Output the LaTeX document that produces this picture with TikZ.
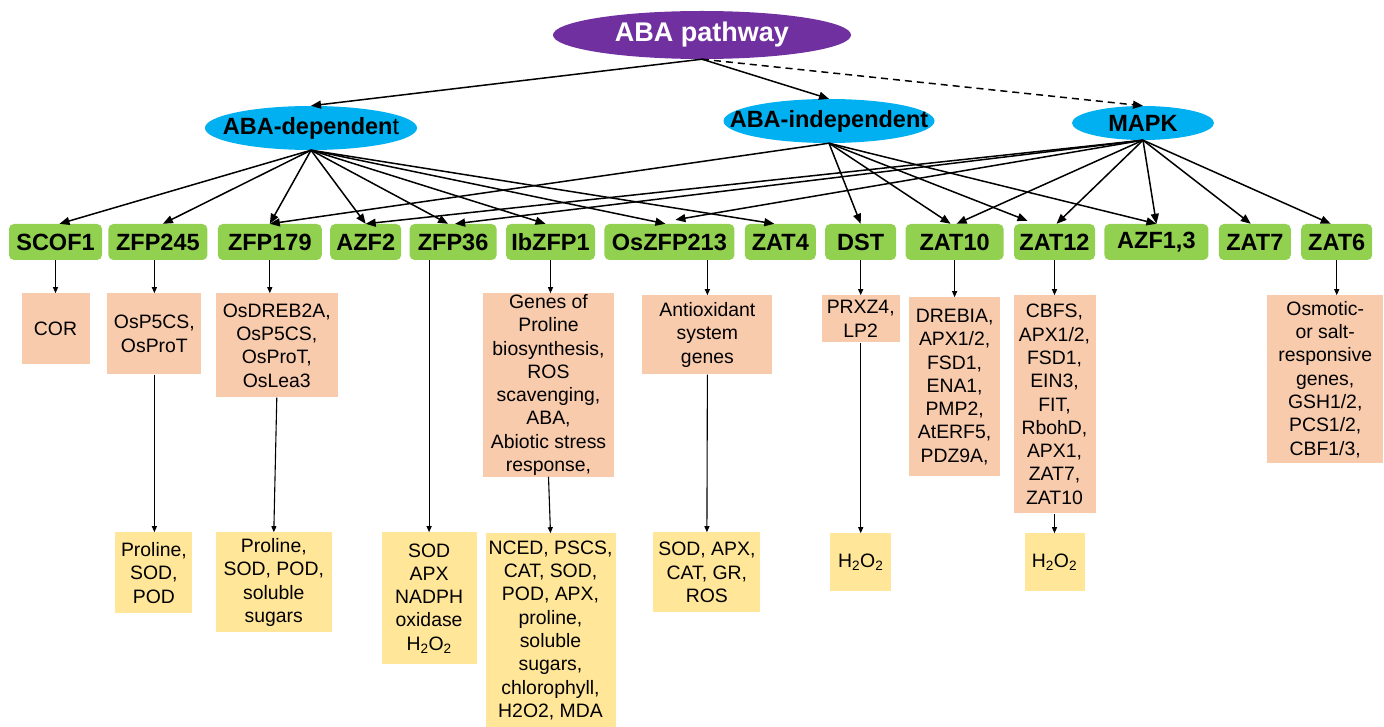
\documentclass[tikz,border=0pt]{standalone}
\usepackage{fontspec}
\setmainfont{Liberation Sans}
\usepackage{tikz}
\usetikzlibrary{shapes.geometric, arrows.meta, positioning}
\definecolor{abapurple}{HTML}{7030A0}
\definecolor{abacyan}{HTML}{00B0F0}
\definecolor{tfgreen}{HTML}{92D050}
\definecolor{geneorange}{HTML}{F8CBAD}
\definecolor{effectyellow}{HTML}{FFE699}

\begin{document}
\begin{tikzpicture}[
    x=1pt, y=-1pt,
    hub/.style={ellipse, fill=#1, inner sep=0pt, 
                font=\fontsize{23.5}{28}\selectfont\bfseries},
    tf/.style={rectangle, rounded corners=5pt, fill=tfgreen, minimum height=36pt, 
               inner sep=1pt, font=\fontsize{23.5}{28}\selectfont\bfseries},
    cell/.style={rectangle, fill=#1, inner sep=1pt, align=center, 
                 font=\fontsize{19.4}{23.3}\selectfont},
    link/.style={line width=1.5pt, -{Triangle[length=10pt,width=8pt]}},
    drop/.style={line width=1.1pt, -{Triangle[length=6pt,width=5pt]}}
]
    \useasboundingbox (0,0) rectangle (1384,727);

    \node[hub=abapurple, minimum width=298pt, minimum height=48pt, text=white, 
          font=\fontsize{27}{32}\selectfont\bfseries] (aba) at (702,35) {\makebox[0pt]{ABA pathway}};
    \node[hub=abacyan, minimum width=212pt, minimum height=44pt] (dep) at (311,128) {\makebox[0pt]{ABA-dependen\textmd{t}}};
    \node[hub=abacyan, minimum width=211pt, minimum height=44pt] (indep) at (829,121) {\makebox[0pt]{ABA-independent}};
    \node[hub=abacyan, minimum width=142pt, minimum height=34pt] (mapk) at (1143,123) {\makebox[0pt]{MAPK}};

    \node[tf, minimum width=93pt] (scof) at (55.5,242) {SCOF1};
    \node[tf, minimum width=99pt, right=6pt of scof] (zfp245) {ZFP245};
    \node[tf, minimum width=104pt, right=10pt of zfp245] (zfp179) {ZFP179};
    \node[tf, minimum width=71pt, right=8pt of zfp179] (azf2) {AZF2};
    \node[tf, minimum width=87pt, right=8pt of azf2] (zfp36) {ZFP36};
    \node[tf, minimum width=89pt, right=9pt of zfp36] (ibzfp) {IbZFP1};
    \node[tf, minimum width=130pt, right=9pt of ibzfp] (oszfp) {OsZFP213};
    \node[tf, minimum width=71pt, right=10pt of oszfp] (zat4) {ZAT4};
    \node[tf, minimum width=71pt, right=9pt of zat4] (dst) {DST};
    \node[tf, minimum width=98pt, right=9pt of dst] (zat10) {ZAT10};
    \node[tf, minimum width=81pt, right=10pt of zat10] (zat12) {ZAT12};
    \node[tf, minimum width=104pt, right=9pt of zat12] (azf13) {AZF1,3};
    \node[tf, minimum width=72pt, right=10pt of azf13] (zat7) {ZAT7};
    \node[tf, minimum width=71pt, right=10pt of zat7] (zat6) {ZAT6};

    \node[cell=geneorange, minimum width=68pt, minimum height=71pt, below=33pt of scof] (cor) {COR};
    \node[cell=geneorange, minimum width=94pt, minimum height=81pt, below=33pt of zfp245, xshift=-3.5pt] (osp) {OsP5CS,\\OsProT};
    \node[cell=geneorange, minimum width=122pt, minimum height=104pt, below=33pt of zfp179, xshift=7pt] (osdreb) {OsDREB2A,\\OsP5CS,\\OsProT,\\OsLea3};
    \node[cell=geneorange, minimum width=131pt, minimum height=179pt, below=33pt of ibzfp, xshift=-2pt] (genes) {Genes of\\Proline\\biosynthesis,\\ROS\\scavenging,\\ABA,\\Abiotic stress\\response,};
    \node[cell=geneorange, minimum width=130pt, minimum height=79pt, below=35pt of oszfp, xshift=38pt] (antiox) {Antioxidant\\system\\genes};
    \node[cell=geneorange, minimum width=78pt, minimum height=47pt, below=35pt of dst] (prxz) {PRXZ4,\\LP2};
    \node[cell=geneorange, minimum width=91pt, minimum height=179pt, below=37pt of zat10] (drebia) {DREBIA,\\APX1/2,\\FSD1,\\ENA1,\\PMP2,\\AtERF5,\\PDZ9A,};
    \node[cell=geneorange, minimum width=82pt, minimum height=218pt, below=35pt of zat12] (cbfs) {CBFS,\\APX1/2,\\FSD1,\\EIN3,\\FIT,\\RbohD,\\APX1,\\ZAT7,\\ZAT10};
    \node[cell=geneorange, minimum width=116pt, minimum height=168pt, below=35pt of zat6, xshift=-11.5pt] (osmotic) {Osmotic-\\or salt-\\responsive\\genes,\\GSH1/2,\\PCS1/2,\\CBF1/3,};

    \node[cell=effectyellow, minimum width=77pt, minimum height=81pt, below=272pt of zfp245, xshift=-4pt] (pro1) {Proline,\\SOD,\\POD};
    \node[cell=effectyellow, minimum width=116pt, minimum height=100pt, below=272pt of zfp179, xshift=4pt] (pro2) {Proline,\\SOD, POD,\\soluble\\sugars};
    \node[cell=effectyellow, minimum width=95pt, minimum height=132pt, below=272pt of zfp36, xshift=-24pt] (sod1) {SOD\\APX\\NADPH\\oxidase\\H\textsubscript{2}O\textsubscript{2}};
    \node[cell=effectyellow, minimum width=130pt, minimum height=194pt, below=273pt of ibzfp] (nced) {NCED, PSCS,\\CAT, SOD,\\POD, APX,\\proline,\\soluble\\sugars,\\chlorophyll,\\H2O2, MDA};
    \node[cell=effectyellow, minimum width=107pt, minimum height=80pt, below=272pt of oszfp, xshift=37.5pt] (sod2) {SOD, APX,\\CAT, GR,\\ROS};
    \node[cell=effectyellow, minimum width=61pt, minimum height=58pt, below=273pt of dst] (hoo1) {H\textsubscript{2}O\textsubscript{2}};
    \node[cell=effectyellow, minimum width=60pt, minimum height=58pt, below=273pt of zat12] (hoo2) {H\textsubscript{2}O\textsubscript{2}};

    \draw[link] (aba.south) -- (dep.north);
    \draw[link] (aba.south) -- (indep.north);
    \draw[link, dash pattern=on 7pt off 5pt] (aba.south) -- (mapk.north);

    \draw[link] (dep.south) -- ([xshift=4pt]scof.north);
    \draw[link] (dep.south) -- ([xshift=5pt]zfp245.north);
    \draw[link] (dep.south) -- (zfp179.north);
    \draw[link] (dep.south) -- (azf2.north);
    \draw[link] (dep.south) -- ([xshift=-5pt]zfp36.north);
    \draw[link] (dep.south) -- ([xshift=-5pt]ibzfp.north);
    \draw[link] (dep.south) -- ([xshift=-4pt]oszfp.north);
    \draw[link] (dep.south) -- ([xshift=-6pt]zat4.north);

    \draw[link] (indep.south) -- (zfp179.north);
    \draw[link] (indep.south) -- (dst.north);
    \draw[link] (indep.south) -- ([xshift=-4pt]zat10.north);
    \draw[link] (indep.south) -- ([xshift=-27pt,yshift=3pt]zat12.north);
    \draw[link] (indep.south) -- (azf13.north);

    \draw[link] (mapk.south) -- (azf2.north);
    \draw[link] (mapk.south) -- ([xshift=2pt]zfp36.north);
    \draw[link] (mapk.south) -- ([xshift=6pt,yshift=4pt]oszfp.north);
    \draw[link] (mapk.south) -- ([xshift=2pt]zat10.north);
    \draw[link] (mapk.south) -- ([xshift=2pt]zat12.north);
    \draw[link] (mapk.south) -- (azf13.north);
    \draw[link] (mapk.south) -- ([xshift=-4pt]zat7.north);
    \draw[link] (mapk.south) -- ([xshift=-6pt]zat6.north);

    \draw[drop] (scof.south) -- (cor.north);
    \draw[drop] (zfp245.south -| osp.north) -- (osp.north);
    \draw[drop] (zfp179.south) -- (zfp179.south |- osdreb.north);
    \draw[drop] (ibzfp.south) -- (ibzfp.south |- genes.north);
    \draw[drop] (oszfp.south -| antiox.north) -- (antiox.north);
    \draw[drop] (dst.south) -- (prxz.north);
    \draw[drop] (zat10.south) -- (zat10.south |- drebia.north);
    \draw[drop] (zat12.south) -- (cbfs.north);
    \draw[drop] (zat6.south) -- (zat6.south |- osmotic.north);

    \draw[drop] (osp.south) -- (osp.south |- pro1.north);
    \draw[drop] (osdreb.south) -- (pro2.north);
    \draw[drop] (zfp36.south -| sod1.north) -- (sod1.north);
    \draw[drop] (genes.south) -- (nced.north);
    \draw[drop] (antiox.south) -- (sod2.north);
    \draw[drop] (prxz.south) -- (hoo1.north);
    \draw[drop] (cbfs.south) -- (hoo2.north);
\end{tikzpicture}
\end{document}
